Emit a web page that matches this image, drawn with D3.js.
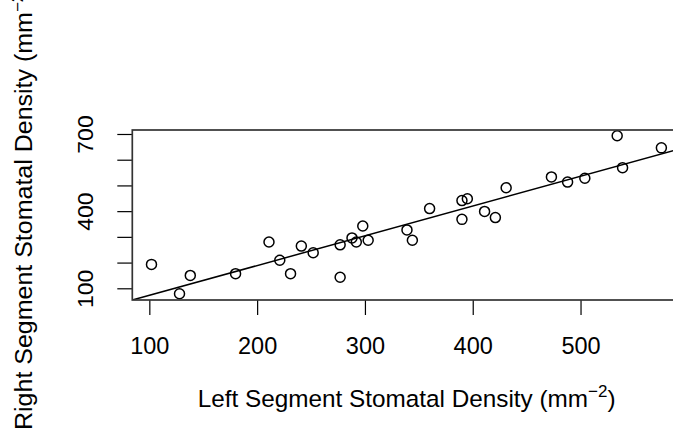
<!DOCTYPE html>
<html>
<head>
<meta charset="utf-8">
<script src="https://cdn.jsdelivr.net/npm/d3@7"></script>
<style>
  body { margin: 0; background: #fff; }
  svg { display: block; font-family: "Liberation Sans", Arial, sans-serif; }
</style>
</head>
<body>
<div id="container"></div>
<script>
// left vs right segment stomatal density
const leftDensity = [102, 128, 138, 180, 211, 221, 231, 241, 252, 277, 277, 288, 292, 298, 303,
  339, 344, 360, 390, 395, 390, 411, 421, 431, 473, 488, 504, 534, 539, 575];
const rightDensity = [193, 79, 150, 157, 280, 209, 157, 264, 238, 143, 269, 296, 280, 342, 287,
  327, 287, 410, 441, 448, 368, 399, 375, 491, 533, 513, 528, 693, 569, 646];

// fitted line (intercept, slope)
const fitIntercept = -43;
const fitSlope = 1.157;

const xTicks = [100, 200, 300, 400, 500];
const yTicks = [100, 200, 300, 400, 500, 600, 700];
const yTickLabels = [100, 400, 700];

const xDomain = [84.2, 593.2];
const yDomain = [54.5, 715.5];

const width = 673, height = 433;
const plot = {left: 132.3, right: 681, top: 130, bottom: 300};

const svg = d3.select('#container')
  .append('svg')
  .attr('width', width)
  .attr('height', height);

const xScale = d3.scaleLinear().domain(xDomain).range([plot.left, plot.right]);
const yScale = d3.scaleLinear().domain(yDomain).range([plot.bottom, plot.top]);

svg.append('clipPath')
  .attr('id', 'plotClip')
  .append('rect')
  .attr('x', plot.left)
  .attr('y', plot.top)
  .attr('width', plot.right - plot.left)
  .attr('height', plot.bottom - plot.top);

//x axis
const xAxis = svg.append('g')
  .attr('transform', `translate(0, ${plot.bottom})`)
  .call(d3.axisBottom(xScale).tickValues(xTicks).tickSize(15).tickPadding(22));
xAxis.select('.domain').remove();
xAxis.selectAll('line').attr('stroke', '#000').attr('stroke-width', 1.2);
xAxis.selectAll('text')
  .attr('fill', '#000')
  .style('font-size', '23.5px')
  .style('font-family', '"Liberation Sans", Arial, sans-serif');

//y axis, ticks every 100 but labels only on some
const yAxis = svg.append('g')
  .attr('transform', `translate(${plot.left}, 0)`)
  .call(d3.axisLeft(yScale).tickValues(yTicks).tickSize(15)
    .tickFormat(d => yTickLabels.includes(d) ? d : ''));
yAxis.select('.domain').remove();
yAxis.selectAll('line').attr('stroke', '#000').attr('stroke-width', 1.2);
yAxis.selectAll('text')
  .attr('fill', '#000')
  .attr('x', null).attr('dy', null)
  .attr('text-anchor', 'middle')
  .attr('transform', 'translate(-39, 0) scale(0.93, 1) rotate(-90)')
  .style('font-size', '23px')
  .style('font-family', '"Liberation Sans", Arial, sans-serif');

//fitted line
svg.append('line')
  .attr('clip-path', 'url(#plotClip)')
  .attr('x1', xScale(xDomain[0]))
  .attr('y1', yScale(fitIntercept + fitSlope * xDomain[0]))
  .attr('x2', xScale(xDomain[1]))
  .attr('y2', yScale(fitIntercept + fitSlope * xDomain[1]))
  .attr('stroke', '#000')
  .attr('stroke-width', 1.5);

//points
svg.append('g')
  .selectAll('circle')
  .data(leftDensity.map((d, i) => ({x: d, y: rightDensity[i]})))
  .join('circle')
  .attr('cx', d => xScale(d.x))
  .attr('cy', d => yScale(d.y))
  .attr('r', 5)
  .attr('fill', 'none')
  .attr('stroke', '#000')
  .attr('stroke-width', 1.5);

//box
svg.append('rect')
  .attr('x', plot.left)
  .attr('y', plot.top)
  .attr('width', plot.right - plot.left)
  .attr('height', plot.bottom - plot.top)
  .attr('fill', 'none')
  .attr('stroke', '#333')
  .attr('stroke-width', 1.7);

//axis titles
const xTitle = svg.append('text')
  .attr('x', (plot.left + plot.right) / 2)
  .attr('y', 407)
  .attr('text-anchor', 'middle')
  .style('font-size', '24.3px')
  .attr('fill', '#000');
xTitle.append('tspan').text('Left Segment Stomatal Density (mm');
xTitle.append('tspan').attr('dy', -10).style('font-size', '17px').text('\u22122');
xTitle.append('tspan').attr('dy', 10).text(')');

const yTitle = svg.append('text')
  .attr('transform', 'translate(32, 430) scale(0.93, 1) rotate(-90)')
  .attr('text-anchor', 'start')
  .style('font-size', '25px')
  .attr('fill', '#000');
yTitle.append('tspan').text('Right Segment Stomatal Density (mm');
yTitle.append('tspan').attr('dy', -10).style('font-size', '17px').text('\u22122');
yTitle.append('tspan').attr('dy', 10).text(')');
</script>
</body>
</html>
